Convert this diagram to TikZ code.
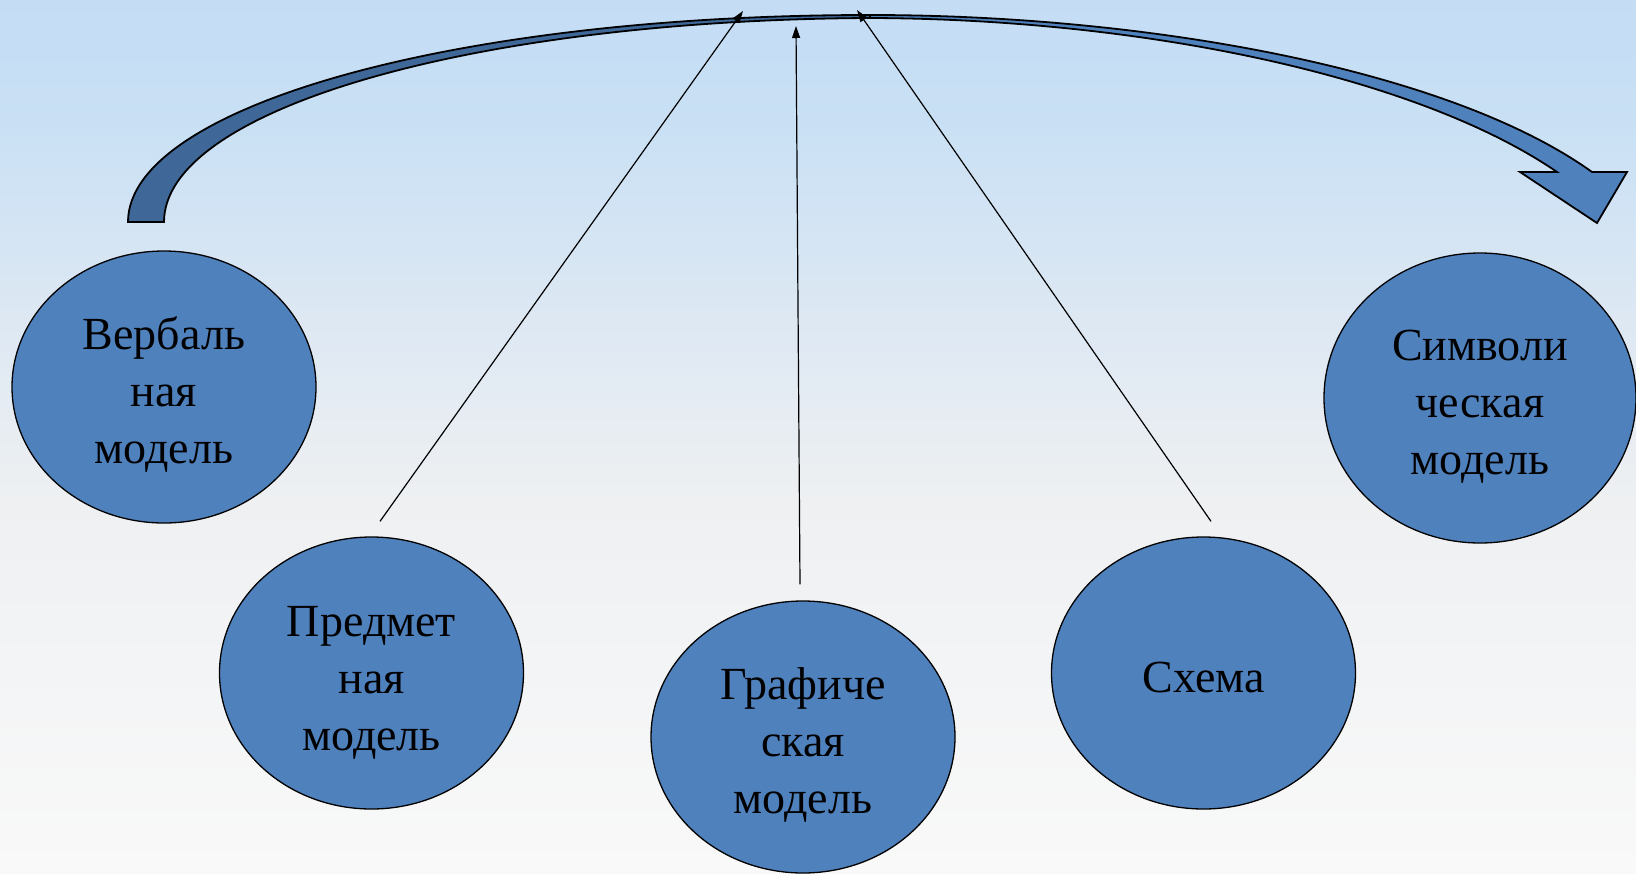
\documentclass[tikz,border=0pt]{standalone}
\usepackage{fontspec}
\setmainfont{Liberation Serif}
\usepackage{tikz}
\usetikzlibrary{arrows.meta, shapes.geometric}
\usepackage{xcolor}

\definecolor{modelblue}{HTML}{4F81BD}
\definecolor{shadowblue}{HTML}{3F6898}
\definecolor{bgtop}{HTML}{C4DDF5}
\definecolor{bghigh}{HTML}{C9E0F4}
\definecolor{bgup}{HTML}{DDE8F3}
\definecolor{bgmid}{HTML}{EEF0F2}
\definecolor{bgbot}{HTML}{F9F9F9}
\pgfdeclareverticalshading{bgfade}{100bp}{color(0bp)=(bgbot); color(25bp)=(bgbot); color(46.4bp)=(bgmid); color(56.7bp)=(bgup); color(68.1bp)=(bghigh); color(75bp)=(bgtop); color(100bp)=(bgtop)}

% strut that pushes the label a little below the centre
\newcommand{\dropline}[1]{\rule{0pt}{#1}}

\begin{document}
\begin{tikzpicture}[x=1pt, y=-1pt,
    model/.style={ellipse, draw=black, line width=1.3pt, fill=modelblue,
        minimum width=304pt, minimum height=272pt, inner sep=0pt,
        align=center, font=\fontsize{46}{57}\selectfont},
    link/.style={-{Triangle[length=12pt,width=8pt]}, line width=1.2pt},
    band/.style={draw=black, line width=1.8pt, line join=miter}]
    % Background
    \shade[shading=bgfade] (0,0) rectangle (1636,873);
    \useasboundingbox (0,0) rectangle (1636,873);

    % Big curved arrow, back part
    \draw[band, fill=shadowblue] (128,222) .. controls (128,108) and (450,15) .. (870,15)
        -- (870,18) .. controls (470,20) and (164,110) .. (164,222) -- cycle;
    % Big curved arrow, front part with head
    \draw[band, fill=modelblue] (870,15) .. controls (1150,15) and (1450,70) .. (1592,172)
        -- (1627,172) -- (1597,223) -- (1520,172) -- (1557,172)
        .. controls (1420,78) and (1150,19) .. (870,18) -- cycle;

    % Models
    \node[model] (verbal) at (164,387) {\dropline{48pt}Вербаль\\ная\\модель};
    \node[model] (object) at (371.5,673) {\dropline{50pt}Предмет\\ная\\модель};
    \node[model] (graphic) at (803,737) {\dropline{48pt}Графиче\\ская\\модель};
    \node[model] (scheme) at (1203.5,673) {\dropline{40pt}Схема};
    \node[model, minimum width=312pt, minimum height=290pt] (symbolic) at (1480,398) {\dropline{48pt}Символи\\ческая\\модель};

    % Arrow tips on the big arrow
    \coordinate (tipA) at (743,11);
    \coordinate (tipB) at (796,26);
    \coordinate (tipC) at (857,10);

    % Links up to the big arrow
    \draw[link] ([xshift=8.5pt,yshift=15pt]object.north) -- (tipA);
    \draw[link] ([xshift=-3pt,yshift=16pt]graphic.north) -- (tipB);
    \draw[link] ([xshift=7.5pt,yshift=15pt]scheme.north) -- (tipC);

\end{tikzpicture}
\end{document}
